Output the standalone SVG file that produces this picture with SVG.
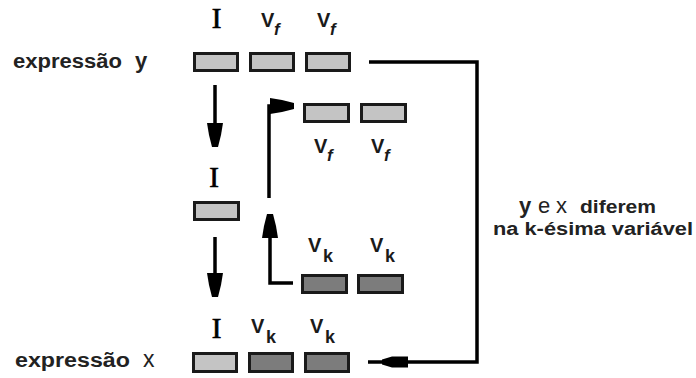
<svg xmlns="http://www.w3.org/2000/svg" width="696" height="378" viewBox="0 0 696 378">
<style>
.box{stroke:#1a1a1a;stroke-width:3}
.lt{fill:#c4c4c4}
.dk{fill:#7c7c7c}
.ln{fill:none;stroke:#000;stroke-width:3.5}
.sans{font-family:"Liberation Sans",Arial,sans-serif;fill:#222}
.b{font-weight:bold}
.ser{font-family:"Liberation Serif","Times New Roman",serif;fill:#000;stroke:#000;stroke-width:0.7;font-size:29px}
.V{font-family:"Liberation Sans",Arial,sans-serif;font-weight:bold;font-size:20px;fill:#1a1a1a}
.sub{font-family:"Liberation Sans",Arial,sans-serif;font-weight:bold;font-size:18px;fill:#1a1a1a}
.f{font-style:italic;font-size:17px}
</style>
<defs>
<marker id="ah" markerUnits="userSpaceOnUse" viewBox="0 -8 24 16" refX="23" refY="0" markerWidth="24" markerHeight="16" orient="auto">
<path d="M0,-8 L12,-6 L24,-3 L24,3 L12,6 L0,8 Z" fill="#000"/>
</marker>
<marker id="ah2" markerUnits="userSpaceOnUse" viewBox="0 -6 26 12" refX="25" refY="0" markerWidth="26" markerHeight="12" orient="auto">
<path d="M0,-5.5 L16,-5.5 L26,-2.5 L26,2.5 L16,5.5 L0,5.5 Z" fill="#000"/>
</marker>
</defs>

<g id="labels-left">
<text class="sans b" x="13" y="68" font-size="20" textLength="109" lengthAdjust="spacingAndGlyphs">expressão</text>
<text class="sans b" x="135" y="68" font-size="22">y</text>
<text class="sans b" x="15" y="367" font-size="20" textLength="115" lengthAdjust="spacingAndGlyphs">expressão</text>
<text class="sans" x="143" y="367" font-size="23">x</text>
</g>

<g id="expr-y">
<rect class="box lt" x="194.5" y="53.5" width="43" height="17"/>
<rect class="box lt" x="250.5" y="53.5" width="43" height="17"/>
<rect class="box lt" x="306.5" y="53.5" width="43" height="17"/>
<text class="ser" x="216.5" y="28" text-anchor="middle">I</text>
<text class="V" x="261" y="27">V</text><text class="sub f" x="274" y="35">f</text>
<text class="V" x="317" y="27">V</text><text class="sub f" x="330" y="35">f</text>
</g>

<g id="vf-pair">
<rect class="box lt" x="304.5" y="104.5" width="44" height="17"/>
<rect class="box lt" x="361.5" y="104.5" width="44" height="17"/>
<text class="V" x="314" y="153">V</text><text class="sub f" x="327" y="161">f</text>
<text class="V" x="371" y="153">V</text><text class="sub f" x="384" y="161">f</text>
</g>

<g id="mid-I">
<rect class="box lt" x="194.5" y="202.5" width="44" height="17"/>
<text class="ser" x="214" y="187" text-anchor="middle">I</text>
</g>

<g id="vk-pair">
<rect class="box dk" x="302.5" y="275.5" width="44" height="17"/>
<rect class="box dk" x="358.5" y="275.5" width="44" height="17"/>
<text class="V" x="308" y="252">V</text><text class="sub" x="323" y="262">k</text>
<text class="V" x="370" y="252">V</text><text class="sub" x="385" y="262">k</text>
</g>

<g id="expr-x">
<rect class="box lt" x="193.5" y="353.5" width="43" height="18"/>
<rect class="box dk" x="249.5" y="353.5" width="43" height="18"/>
<rect class="box dk" x="305.5" y="353.5" width="43" height="18"/>
<text class="ser" x="216.5" y="338" text-anchor="middle">I</text>
<text class="V" x="251" y="333">V</text><text class="sub" x="266" y="343">k</text>
<text class="V" x="310" y="333">V</text><text class="sub" x="325" y="343">k</text>
</g>

<g id="note">
<text class="sans" y="213" font-size="22"><tspan x="519" font-weight="bold">y</tspan><tspan x="538">e</tspan><tspan x="556">x</tspan></text>
<text class="sans b" x="580" y="213" font-size="18" textLength="76" lengthAdjust="spacingAndGlyphs">diferem</text>
<text class="sans b" x="493" y="235" font-size="18" textLength="200" lengthAdjust="spacingAndGlyphs">na k-ésima variável</text>
</g>

<g id="connectors">
<path class="ln" d="M215,85 V146" marker-end="url(#ah)"/>
<path class="ln" d="M215,237 V296" marker-end="url(#ah)"/>
<path class="ln" d="M269,198 V106 H293" marker-end="url(#ah)"/>
<path class="ln" d="M293,283 H270 V215" marker-end="url(#ah)"/>
<path class="ln" d="M369,62 H477 V362 H368"/>
<path d="M410,362 H383" fill="none" stroke="none" marker-end="url(#ah2)"/>
</g>
</svg>
